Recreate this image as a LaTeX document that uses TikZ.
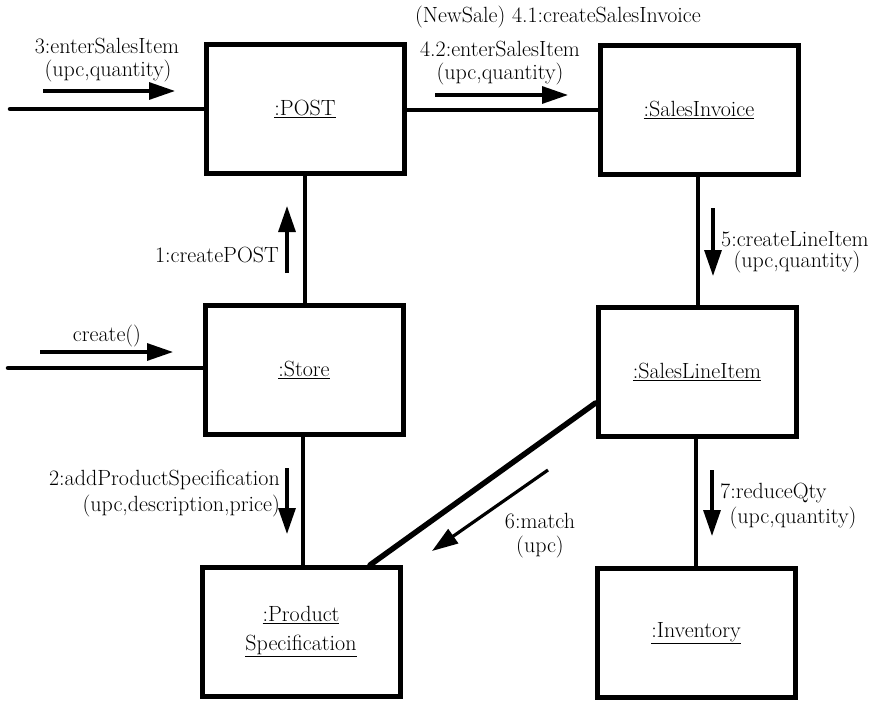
\documentclass[tikz,border=0pt]{standalone}
\usetikzlibrary{arrows.meta,calc}
\pgfdeclarelayer{background}
\pgfsetlayers{background,main}
\begin{document}
\begin{tikzpicture}[x=1pt,y=-1pt,
  every node/.style={font=\rmfamily\fontsize{22}{26}\selectfont, inner sep=0pt},
  obj/.style={draw, line width=5pt, minimum width=198pt, minimum height=129pt, fill=white},
  link/.style={line width=4.5pt, line cap=round},
  msg/.style={line width=3.2pt, -{Triangle[length=26pt,width=17pt]}}
]
\useasboundingbox (0,0) rectangle (873,701);

% objects
\node[obj] (POST) at (305,109) {\underline{:POST}};
\node[obj] (SI) at (699,110) {\underline{:SalesInvoice}};
\node[obj] (Store) at (304,370) {\underline{:Store}};
\node[obj] (SLI) at (697,372) {\underline{:SalesLineItem}};
\node[obj, align=center] (PS) at (301,632) {\underline{:Product}\\[3pt]\underline{Specification}};
\node[obj] (Inv) at (696,633) {\underline{:Inventory}};

% free ends
\coordinate (inPOST) at (10,109);
\coordinate (inStore) at (8,368);

% links
\begin{pgfonlayer}{background}
\draw[link] (inPOST) -- (POST.west);
\draw[link] (inStore) -- (Store.west |- inStore);
\draw[link] (POST.east |- 0,110) -- (SI.west |- 0,110);
\draw[link] (POST.south -| 305,0) -- (Store.north -| 305,0);
\draw[link] (Store.south -| 303,0) -- (PS.north -| 303,0);
\draw[link] (SI.south -| 698,0) -- (SLI.north -| 698,0);
\draw[link] (SLI.south -| 696,0) -- (Inv.north -| 696,0);
\draw[link, line width=5.5pt] (SLI.west |- 0,403) -- (PS.north -| 370,0);
\end{pgfonlayer}

% message arrows
\coordinate (m3a) at (43,91);  \coordinate (m3b) at (175,91);
\coordinate (m42a) at (435,95); \coordinate (m42b) at (568,95);
\coordinate (m1a) at (287,273); \coordinate (m1b) at (287,206);
\coordinate (mca) at (40,352); \coordinate (mcb) at (173,352);
\coordinate (m5a) at (713,208); \coordinate (m5b) at (713,276);
\coordinate (m2a) at (287,468); \coordinate (m2b) at (287,534);
\coordinate (m6a) at (548,470); \coordinate (m6b) at (432,551);
\coordinate (m7a) at (712,470); \coordinate (m7b) at (712,536);
\draw[msg] (m3a) -- (m3b);
\draw[msg] (m42a) -- (m42b);
\draw[msg] (m1a) -- (m1b);
\draw[msg] (mca) -- (mcb);
\draw[msg] (m5a) -- (m5b);
\draw[msg] (m2a) -- (m2b);
\draw[msg] (m6a) -- (m6b);
\draw[msg] (m7a) -- (m7b);

% labels
\node (t41) at (558,17) {(NewSale) 4.1:createSalesInvoice};
\node (t3) at (107,46) {3:enterSalesItem};
\node (t3b) at (108,71) {(upc,quantity)};
\node (t42) at (500,49) {4.2:enterSalesItem};
\node (t42b) at (500,74) {(upc,quantity)};
\node[anchor=east] (t1) at (279,255) {1:createPOST};
\node (tc) at (107,336) {create()};
\node[anchor=west] (t5) at (721,239) {5:createLineItem};
\node (t5b) at (797,262) {(upc,quantity)};
\node[anchor=east] (t2) at (280,480) {2:addProductSpecification};
\node[anchor=east] (t2b) at (280,506) {(upc,description,price)};
\node (t6) at (540,521) {6:match};
\node (t6b) at (540,547) {(upc)};
\node[anchor=west] (t7) at (720,493) {7:reduceQty};
\node (t7b) at (793,518) {(upc,quantity)};
\end{tikzpicture}
\end{document}
